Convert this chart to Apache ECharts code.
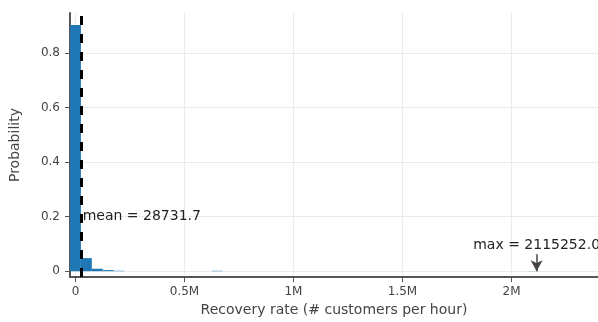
<!DOCTYPE html>
<html>
<head>
<meta charset="utf-8">
<script src="https://cdn.jsdelivr.net/npm/echarts@6/dist/echarts.min.js"></script>
<style>
  html, body { margin: 0; padding: 0; background: #fff; }
  #chart { width: 598px; height: 322px; }
</style>
</head>
<body>
<div id="chart"></div>
<script>
// Histogram bins: centre of each bin (customers per hour) and its probability.
const binCenters = [
  0, 50000, 100000, 150000, 200000, 250000, 300000, 350000, 400000, 450000,
  500000, 550000, 600000, 650000, 700000, 750000, 800000, 850000, 900000, 950000,
  1000000, 1050000, 1100000, 1150000, 1200000, 1250000, 1300000, 1350000, 1400000, 1450000,
  1500000, 1550000, 1600000, 1650000, 1700000, 1750000, 1800000, 1850000, 1900000, 1950000,
  2000000, 2050000, 2100000
];
const binProbabilities = [
  0.903, 0.048, 0.009, 0.004, 0.0015, 0, 0, 0, 0, 0,
  0, 0, 0, 0.0015, 0, 0, 0, 0, 0, 0,
  0, 0, 0, 0, 0, 0, 0, 0, 0, 0,
  0, 0, 0, 0, 0, 0, 0, 0, 0, 0,
  0, 0, 0.0005
];
const binWidth = 50000;

// Summary statistics shown on the chart.
const meanValue = 28731.7;
const maxValue = 2115252.0;

const xTitle = 'Recovery rate (# customers per hour)';
const yTitle = 'Probability';

const FONT = '"DejaVu Sans", Verdana, sans-serif';
const histData = binCenters.map((c, i) => [c, binProbabilities[i]]);

const chart = echarts.init(document.getElementById('chart'), null, { renderer: 'canvas' });

chart.setOption({
  animation: false,
  backgroundColor: '#fff',
  grid: { left: 64, right: 0, top: 13, bottom: 41, containLabel: false },
  xAxis: {
    type: 'value',
    min: -25000,
    max: 2396800,
    splitNumber: 5,
    name: xTitle,
    nameLocation: 'middle',
    nameGap: 23,
    nameTextStyle: { fontFamily: FONT, fontSize: 14, color: '#444' },
    axisLine: { show: true, onZero: false, lineStyle: { color: '#555', width: 2 } },
    axisTick: { show: true, length: 5, lineStyle: { color: '#555', width: 1 } },
    axisLabel: {
      fontFamily: FONT, fontSize: 12, color: '#444', margin: 9,
      showMinLabel: false, showMaxLabel: false,
      formatter: v => (v === 0 ? '0' : (v / 1e6) + 'M')
    },
    splitLine: { show: true, showMinLine: false, showMaxLine: false, lineStyle: { color: '#ebebeb', width: 1 } }
  },
  yAxis: {
    type: 'value',
    min: -0.0217,
    max: 0.9472,
    splitNumber: 5,
    name: yTitle,
    nameLocation: 'middle',
    nameGap: 48,
    nameTextStyle: { fontFamily: FONT, fontSize: 14, color: '#444' },
    axisLine: { show: true, onZero: false, lineStyle: { color: '#555', width: 2 } },
    axisTick: { show: true, length: 5, lineStyle: { color: '#555', width: 1 } },
    axisLabel: {
      fontFamily: FONT, fontSize: 12, color: '#444', margin: 10,
      showMinLabel: false, showMaxLabel: false
    },
    splitLine: { show: true, showMinLine: false, showMaxLine: false, lineStyle: { color: '#ebebeb', width: 1 } }
  },
  series: [{
    type: 'custom',
    data: histData,
    clip: true,
    renderItem: (params, api) => {
      const c = api.value(0);
      const p = api.value(1);
      if (!(p > 0)) return null;
      const topLeft = api.coord([c - binWidth / 2, p]);
      const bottomRight = api.coord([c + binWidth / 2, 0]);
      return {
        type: 'rect',
        shape: {
          x: topLeft[0],
          y: topLeft[1],
          width: bottomRight[0] - topLeft[0],
          height: bottomRight[1] - topLeft[1]
        },
        style: { fill: '#1f77b4' }
      };
    },
    encode: { x: 0, y: 1 },
    z: 2,
    markLine: {
      silent: true,
      animation: false,
      symbol: ['none', 'none'],
      data: [
        {
          xAxis: meanValue,
          lineStyle: { color: '#000', width: 3, type: [9, 9] },
          label: { show: false }
        },
        [
          {
            coord: [maxValue, 0.062],
            symbol: 'none',
            lineStyle: { color: '#444', width: 1.5, type: 'solid' },
            label: {
              show: true, position: 'start', distance: 2,
              formatter: 'max = ' + maxValue.toFixed(1),
              fontFamily: FONT, fontSize: 14, color: '#222'
            }
          },
          { coord: [maxValue, 0.0], symbol: 'arrow', symbolSize: [9, 11] }
        ]
      ]
    },
    markPoint: {
      silent: true,
      animation: false,
      data: [{
        coord: [meanValue, 0.2],
        symbol: 'circle',
        symbolSize: 0,
        label: {
          show: true, position: 'right', distance: 1,
          formatter: 'mean = ' + meanValue.toFixed(1),
          fontFamily: FONT, fontSize: 14, color: '#222'
        }
      }]
    }
  }]
});
</script>
</body>
</html>
